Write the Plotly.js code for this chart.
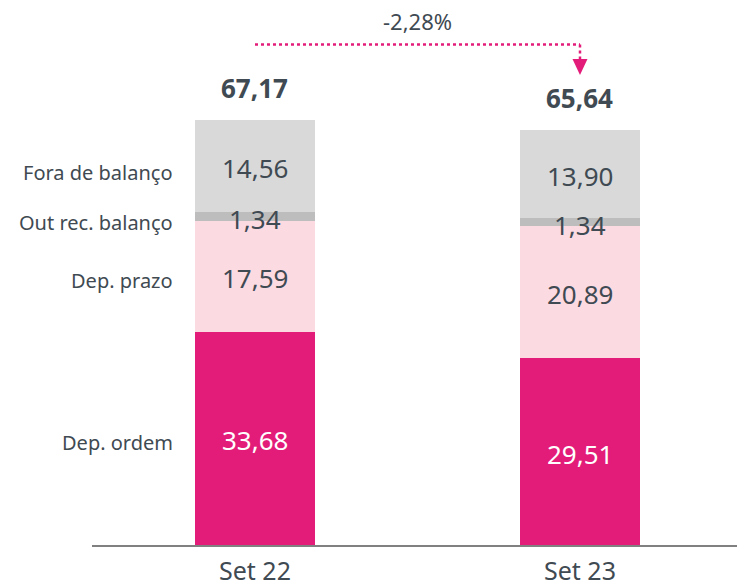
<!DOCTYPE html>
<html>
<head>
<meta charset="utf-8">
<script src="https://cdn.plot.ly/plotly-3.0.1.min.js"></script>
<style>
  html, body { margin: 0; padding: 0; background: #fff; }
  #chart { width: 737px; height: 587px; }
</style>
</head>
<body>
<div id="chart"></div>
<script>
// Periods on the x axis
const periods = ['Set 22', 'Set 23'];

// Stacked components (bottom to top)
const depOrdem     = [33.68, 29.51];
const depPrazo     = [17.59, 20.89];
const outRecBal    = [1.34, 1.34];
const foraBalanco  = [14.56, 13.90];

// Totals shown above the bars and the period change
const totals = [67.17, 65.64];
const changeLabel = '-2,28%';

const seriesNames  = ['Dep. ordem', 'Dep. prazo', 'Out rec. balanço', 'Fora de balanço'];
const seriesValues = [depOrdem, depPrazo, outRecBal, foraBalanco];
const seriesColors = ['#E31C79', '#FCDAE2', '#BDBDBD', '#D9D9D9'];
const seriesText   = ['#FFFFFF', '#3F4A52', '#3F4A52', '#3F4A52'];

const FONT = 'Noto Sans, sans-serif';
const TXT = '#3F4A52';
const fmt = v => v.toFixed(2).replace('.', ',');

const annotations = [];

const traces = seriesValues.map((vals, i) => ({
  type: 'bar',
  name: seriesNames[i],
  x: periods,
  y: vals,
  marker: { color: seriesColors[i], line: { width: 0 } },
  width: 0.372,
  hoverinfo: 'skip'
}));

// Value labels centred in each segment (drawn above all bars so thin ones stay readable)
const cumulative = [0, 0];
seriesValues.forEach((vals, i) => {
  vals.forEach((v, j) => {
    const mid = cumulative[j] + v / 2;
    cumulative[j] += v;
    annotations.push({
      x: periods[j], xref: 'x', y: mid, yref: 'y',
      yshift: v < 3 ? -3 : -2,
      text: fmt(v), showarrow: false,
      font: { family: FONT, size: 26, color: seriesText[i] }
    });
  });
});

// Totals above each bar
totals.forEach((t, i) => {
  annotations.push({
    x: periods[i], y: t, xref: 'x', yref: 'y',
    text: '<b>' + fmt(t) + '</b>', showarrow: false,
    yanchor: 'bottom', yshift: 12,
    font: { family: FONT, size: 26, color: TXT }
  });
});

// Segment names at the left, beside the first bar
let cum = 0;
seriesValues.forEach((vals, i) => {
  const mid = cum + vals[0] / 2;
  cum += vals[0];
  annotations.push({
    x: 0, xref: 'paper', xanchor: 'right', xshift: 83,
    y: mid, yref: 'y',
    yshift: i >= 2 ? -6 : -4,
    text: seriesNames[i], showarrow: false,
    font: { family: FONT, size: 20, color: TXT }
  });
});

// Change label over the connector
annotations.push({
  x: 0.5, xref: 'x', y: 1, yref: 'paper', yanchor: 'middle', yshift: -21,
  text: changeLabel, showarrow: false,
  font: { family: FONT, size: 22, color: TXT }
});

// Dotted connector from the first bar to the second, with a down arrowhead
const H = 545;
const py = p => (H - p) / H;
const W = 645, L = 92;
const xr = [-0.5015, 1.4831];
const px = v => (v - xr[0]) / (xr[1] - xr[0]);
const cx = px(1), hw = 7.5 / W;

const shapes = [
  { type: 'line', xref: 'x', yref: 'paper', x0: 0, x1: 1, y0: py(44.5), y1: py(44.5),
    line: { color: '#E31C79', width: 2.5, dash: 'dot' } },
  { type: 'line', xref: 'x', yref: 'paper', x0: 1, x1: 1, y0: py(44.5), y1: py(59),
    line: { color: '#E31C79', width: 2.5, dash: 'dot' } },
  { type: 'path', xref: 'paper', yref: 'paper',
    path: `M ${cx - hw} ${py(59)} L ${cx + hw} ${py(59)} L ${cx} ${py(75)} Z`,
    fillcolor: '#E31C79', line: { width: 0 } }
];

const layout = {
  width: 737, height: 587,
  margin: { l: L, r: 0, t: 0, b: 42 },
  paper_bgcolor: '#FFFFFF', plot_bgcolor: '#FFFFFF',
  barmode: 'stack',
  showlegend: false,
  font: { family: FONT, color: TXT },
  xaxis: {
    type: 'category', range: xr, fixedrange: true,
    showline: true, linecolor: '#808080', linewidth: 1.5,
    showgrid: false, zeroline: false, ticks: '',
    tickfont: { family: FONT, size: 25, color: TXT },
    ticklabelstandoff: 3
  },
  yaxis: {
    range: [0, 86.14], visible: false, fixedrange: true
  },
  annotations: annotations,
  shapes: shapes
};

Plotly.newPlot('chart', traces, layout, { displayModeBar: false, staticPlot: true });
</script>
</body>
</html>
